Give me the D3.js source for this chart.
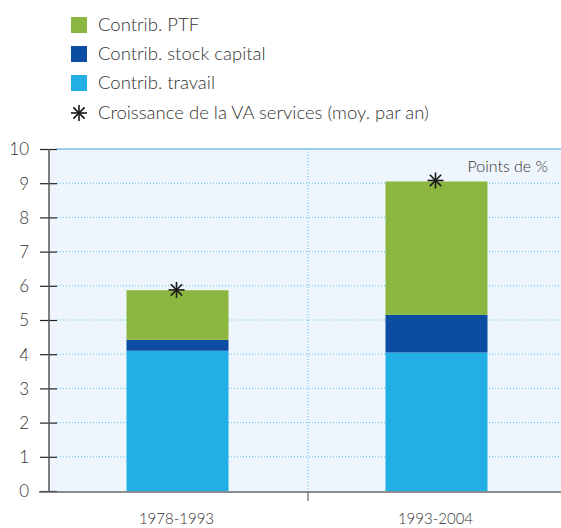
<!DOCTYPE html>
<html>
<head>
<meta charset="utf-8" />
<script src="https://d3js.org/d3.v7.min.js"></script>
<style>
  body { margin: 0; background: #fff; }
  text { font-family: Lato, "Open Sans", sans-serif; font-weight: 300; fill: #333; }
</style>
</head>
<body>
<div id="canvas"></div>
<script>
// données
var periodes = ["1978-1993", "1993-2004"];
var travail = [4.1, 4.05];
var capital = [0.32, 1.1];
var ptf = [1.45, 3.9];
var croissance = [5.88, 9.08];
var yTicks = [0, 1, 2, 3, 4, 5, 6, 7, 8, 9, 10];

var series = [
  {label: "Contrib. PTF", color: "#8BB741"},
  {label: "Contrib. stock capital", color: "#0D4DA1"},
  {label: "Contrib. travail", color: "#21AFE5"}
];

var width = 561, height = 528;
var pLeft = 49, pRight = 567, pTop = 149, pBottom = 491;

var svg = d3.select("#canvas").append("svg")
  .attr("width", width).attr("height", height);

var x = d3.scaleBand().domain(periodes).range([pLeft, pRight]).paddingInner(0).paddingOuter(0);
var y = d3.scaleLinear().domain([0, 10]).range([pBottom, pTop]);
var barW = 102;

// fond
svg.append("rect").attr("x", pLeft).attr("y", pTop)
  .attr("width", pRight - pLeft).attr("height", pBottom - pTop)
  .attr("fill", "#EEF5FC");

// grille pointillée
svg.selectAll(".grid").data(yTicks.filter(function(d){ return d > 0 && d < 10; }))
  .enter().append("line")
  .attr("x1", pLeft + 8).attr("x2", pRight)
  .attr("y1", function(d){ return y(d); }).attr("y2", function(d){ return y(d); })
  .attr("stroke", "#5BC3EC").attr("stroke-width", 1).attr("stroke-dasharray", "1,2");

svg.append("line").attr("x1", pLeft + 8).attr("x2", pRight)
  .attr("y1", y(10)).attr("y2", y(10))
  .attr("stroke", "#3AA6DC").attr("stroke-width", 1);

// séparation verticale
var sep = x(periodes[1]);
svg.append("line").attr("x1", sep).attr("x2", sep)
  .attr("y1", pTop).attr("y2", pBottom)
  .attr("stroke", "#5BC3EC").attr("stroke-dasharray", "1,2");

// barres empilées
var stackData = periodes.map(function(p, i){
  return {periode: p, travail: travail[i], capital: capital[i], ptf: ptf[i]};
});
var stack = d3.stack().keys(["travail", "capital", "ptf"]);
var layers = stack(stackData);
var colors = {travail: "#21AFE5", capital: "#0D4DA1", ptf: "#8BB741"};

svg.selectAll(".layer").data(layers).enter().append("g")
  .attr("fill", function(d){ return colors[d.key]; })
  .selectAll("rect").data(function(d){ return d; }).enter().append("rect")
  .attr("x", function(d){ return x(d.data.periode) + x.bandwidth() / 2 - barW / 2 - 1; })
  .attr("width", barW)
  .attr("y", function(d){ return y(d[1]); })
  .attr("height", function(d){ return y(d[0]) - y(d[1]); });

// étoiles
function star(g, cx, cy, r) {
  for (var k = 0; k < 4; k++) {
    var a = k * Math.PI / 4;
    g.append("line")
      .attr("x1", cx - r * Math.cos(a)).attr("y1", cy - r * Math.sin(a))
      .attr("x2", cx + r * Math.cos(a)).attr("y2", cy + r * Math.sin(a))
      .attr("stroke", "#1a1a1a").attr("stroke-width", 1.6);
  }
}
periodes.forEach(function(p, i){
  star(svg, x(p) + x.bandwidth() / 2 - 2, y(croissance[i]), 8);
});

// axe Y
var yAxis = svg.append("g").attr("transform", "translate(" + pLeft + ",0)")
  .call(d3.axisLeft(y).tickValues(yTicks).tickSize(0).tickPadding(0));
yAxis.select(".domain").remove();
yAxis.selectAll(".tick text").remove();
yAxis.selectAll(".tick").append("line")
  .attr("x1", -9).attr("x2", 8).attr("stroke", "#222").attr("stroke-width", 1.2);
yAxis.selectAll(".tick").append("text")
  .attr("x", -20).attr("dy", "0.35em")
  .attr("text-anchor", "end").attr("font-size", 17)
  .text(function(d){ return d; });
svg.append("line").attr("x1", pLeft).attr("x2", pLeft)
  .attr("y1", pTop).attr("y2", pBottom + 1)
  .attr("stroke", "#555").attr("stroke-width", 1.5);

// axe X
svg.append("line").attr("x1", pLeft - 10).attr("x2", pRight)
  .attr("y1", pBottom + 1).attr("y2", pBottom + 1)
  .attr("stroke", "#666").attr("stroke-width", 1.5);
svg.append("line").attr("x1", sep).attr("x2", sep)
  .attr("y1", pBottom + 1).attr("y2", pBottom + 10)
  .attr("stroke", "#666").attr("stroke-width", 1.2);
svg.selectAll(".xlab").data(periodes).enter().append("text")
  .attr("x", function(d){ return x(d) + x.bandwidth() / 2 - 2; })
  .attr("y", 524).attr("text-anchor", "middle").attr("font-size", 15)
  .text(function(d){ return d; });

svg.append("text").attr("x", 548).attr("y", 172)
  .attr("text-anchor", "end").attr("font-size", 16).text("Points de %");

// légende
var lg = svg.append("g");
series.forEach(function(s, i){
  var cy = 25 + i * 29;
  lg.append("rect").attr("x", 71).attr("y", cy - 8).attr("width", 16).attr("height", 16)
    .attr("fill", s.color);
  lg.append("text").attr("x", 98).attr("y", cy).attr("dy", "0.35em")
    .attr("font-size", 18.5).text(s.label);
});
star(lg, 79, 113, 8);
lg.append("text").attr("x", 98).attr("y", 113).attr("dy", "0.35em")
  .attr("font-size", 18.5).text("Croissance de la VA services (moy. par an)");
</script>
</body>
</html>
